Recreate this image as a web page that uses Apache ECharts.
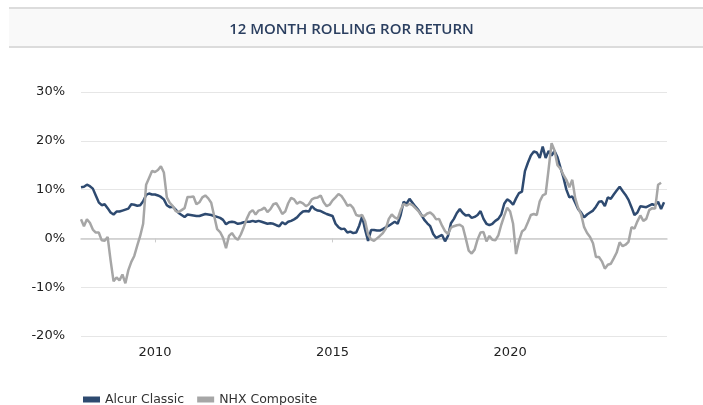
<!DOCTYPE html>
<html>
<head>
<meta charset="utf-8">
<script src="https://cdn.jsdelivr.net/npm/echarts@6/dist/echarts.min.js"></script>
<style>
  html, body { margin: 0; padding: 0; background: #fff; }
  #rollingChart { width: 703px; height: 405px; }
</style>
</head>
<body>
<div id="rollingChart"></div>
<script>
  // monthly points, first one is Dec 2007
  const startYear = 2007;
  const startMonth = 12;
  const seriesNames = ['Alcur Classic', 'NHX Composite'];
  const yTicks = [-20, -10, 0, 10, 20, 30];
  const xTickYears = [2010, 2015, 2020];

  const alcurClassic = [
    10.5, 10.6, 11.0, 10.7, 10.2, 8.8, 7.4, 6.8, 7.0, 6.2,
    5.3, 4.9, 5.5, 5.5, 5.7, 5.9, 6.1, 7.0, 6.9, 6.7,
    6.8, 7.6, 8.9, 9.2, 9.0, 9.0, 8.8, 8.5, 8.0, 6.8,
    6.4, 6.5, 5.9, 5.2, 4.8, 4.4, 4.9, 4.8, 4.7, 4.6,
    4.6, 4.8, 5.0, 4.9, 4.8, 4.6, 4.4, 4.2, 3.8, 2.9,
    3.3, 3.4, 3.3, 3.0, 3.1, 3.3, 3.4, 3.4, 3.6, 3.4,
    3.6, 3.4, 3.2, 3.0, 3.1, 3.0, 2.7, 2.5, 3.3, 2.9,
    3.4, 3.6, 3.9, 4.3, 5.0, 5.5, 5.6, 5.5, 6.6, 6.0,
    5.7, 5.6, 5.3, 5.0, 4.8, 4.6, 3.0, 2.3, 1.9, 2.0,
    1.2, 1.4, 1.1, 1.2, 2.6, 4.5, 1.8, -0.5, 1.7, 1.7,
    1.6, 1.6, 1.9, 2.3, 2.6, 3.0, 3.4, 3.0, 4.8, 7.5,
    7.1, 8.1, 7.3, 6.5, 5.8, 4.8, 3.8, 3.1, 2.5, 0.9,
    0.1, 0.4, 0.7, -0.6, 0.5, 3.1, 4.0, 5.2, 6.0, 5.2,
    4.7, 4.8, 4.2, 4.4, 4.8, 5.6, 4.0, 3.0, 2.7, 3.0,
    3.6, 4.0, 4.9, 7.1, 8.0, 7.6, 6.9, 8.2, 9.3, 9.6,
    13.8, 15.5, 17.0, 17.8, 17.6, 16.5, 18.8, 16.5, 17.9, 17.0,
    17.9, 16.6, 14.5, 12.5, 10.0, 8.4, 8.6, 7.3, 6.0, 5.3,
    4.3, 4.9, 5.3, 5.7, 6.5, 7.5, 7.6, 6.6, 8.4, 8.1,
    9.0, 9.8, 10.6, 9.7, 8.9, 7.9, 6.4, 4.8, 5.3, 6.6,
    6.5, 6.4, 6.7, 7.0, 6.8, 7.5, 6.0, 7.4
  ];

  const nhxComposite = [
    3.9, 2.5, 3.9, 3.2, 1.8, 1.2, 1.2, -0.4, -0.5, 0.3,
    -4.5, -8.8, -8.0, -8.6, -7.4, -9.2, -6.5, -4.8, -3.6, -1.5,
    0.5, 3.0, 11.0, 12.4, 13.8, 13.6, 14.0, 14.8, 13.5, 8.4,
    7.3, 6.6, 5.6, 5.4, 5.8, 6.2, 8.5, 8.5, 8.6, 7.0,
    7.4, 8.4, 8.8, 8.2, 7.3, 4.6, 1.9, 1.3, 0.1, -2.0,
    0.5, 1.1, 0.2, -0.3, 0.8, 2.3, 4.0, 5.3, 5.8, 4.9,
    5.7, 5.9, 6.3, 5.4, 6.0, 7.0, 7.2, 6.2, 5.0, 5.5,
    7.2, 8.3, 8.0, 7.1, 7.5, 7.2, 6.6, 7.0, 8.0, 8.3,
    8.4, 8.8, 7.4, 6.6, 6.9, 7.8, 8.4, 9.1, 8.7, 7.8,
    6.7, 6.9, 6.2, 4.8, 4.6, 4.8, 3.5, 0.8, -0.2, -0.5,
    0.0, 0.5, 1.1, 2.0, 4.0, 4.9, 4.3, 4.0, 5.8, 7.1,
    6.7, 7.1, 6.8, 6.2, 5.6, 4.7, 4.6, 5.1, 5.3, 4.8,
    3.9, 4.0, 2.6, 1.5, 0.9, 2.2, 2.5, 2.7, 2.8, 2.4,
    0.0, -2.5, -3.1, -2.3, -0.2, 1.2, 1.3, -0.6, 0.5, -0.3,
    -0.4, 0.6, 2.8, 4.6, 6.3, 5.5, 3.0, -3.2, -0.5, 1.4,
    1.9, 3.3, 4.8, 5.0, 4.8, 7.6, 8.8, 9.1, 14.2, 19.5,
    18.0, 15.0, 14.3, 13.0, 12.0, 10.5, 12.0, 8.2, 6.2, 4.9,
    2.3, 1.1, 0.3, -1.0, -3.8, -3.8, -4.7, -6.2, -5.4, -5.2,
    -4.1, -2.9, -0.8, -1.6, -1.3, -0.7, 2.3, 2.0, 3.5, 4.7,
    3.6, 4.0, 5.8, 6.2, 6.1, 11.0, 11.4, null
  ];

  // month positions as fractional years (Jan 2010 = 2010.0)
  const months = [];
  for (let i = 0; i < alcurClassic.length; i++) {
    months.push(startYear + (startMonth - 1 + i) / 12);
  }
  const pair = (arr) => arr.map((v, i) => [months[i], v]);

  const chartDom = document.getElementById('rollingChart');
  const myChart = echarts.init(chartDom, null, {renderer: 'canvas'});

  const option = {
    backgroundColor: '#ffffff',
    animation: false,
    graphic: [
      {
        type: 'rect',
        shape: {x: 9, y: 8, width: 694, height: 39},
        style: {fill: '#f9f9f9'},
        silent: true
      },
      {
        type: 'line',
        shape: {x1: 9, y1: 8, x2: 703, y2: 8},
        style: {stroke: '#dcdcdc', lineWidth: 2}
      },
      {
        type: 'line',
        shape: {x1: 9, y1: 47, x2: 703, y2: 47},
        style: {stroke: '#dcdcdc', lineWidth: 2}
      }
    ],
    title: {
      text: '12 MONTH ROLLING ROR RETURN',
      left: 'center',
      top: 17,
      textStyle: {
        fontFamily: 'Open Sans',
        fontWeight: 600,
        fontSize: 15,
        color: '#2b3f60'
      }
    },
    legend: {
      data: seriesNames,
      left: 78,
      top: 388,
      icon: 'rect',
      itemWidth: 17,
      itemHeight: 6,
      itemGap: 13,
      textStyle: {fontFamily: 'DejaVu Sans', fontSize: 12.5, color: '#333'}
    },
    grid: {left: 81, right: 36, top: 92, bottom: 69},
    xAxis: {
      type: 'value',
      min: startYear + (startMonth - 1) / 12,
      max: 2024 + 5 / 12,
      axisLine: {lineStyle: {color: '#cccccc', width: 1.5}},
      axisTick: {
        show: true,
        length: 4,
        lineStyle: {color: '#cccccc'},
        customValues: xTickYears
      },
      axisLabel: {
        margin: 10,
        fontFamily: 'DejaVu Sans',
        fontSize: 13,
        color: '#222',
        customValues: xTickYears,
        formatter: (v) => String(v)
      },
      splitLine: {show: false}
    },
    yAxis: {
      type: 'value',
      min: yTicks[0],
      max: yTicks[yTicks.length - 1],
      interval: 10,
      axisLine: {show: false},
      axisTick: {show: false},
      axisLabel: {
        formatter: '{value}%',
        margin: 16,
        fontFamily: 'DejaVu Sans',
        fontSize: 13,
        color: '#222'
      },
      splitLine: {lineStyle: {color: '#e6e6e6', width: 1}}
    },
    series: [
      {
        name: seriesNames[0],
        type: 'line',
        data: pair(alcurClassic),
        showSymbol: false,
        lineStyle: {width: 2.5, color: '#2e4a70'},
        itemStyle: {color: '#2e4a70'}
      },
      {
        name: seriesNames[1],
        type: 'line',
        data: pair(nhxComposite),
        showSymbol: false,
        lineStyle: {width: 2.5, color: '#a6a6a6'},
        itemStyle: {color: '#a6a6a6'}
      }
    ]
  };
  myChart.setOption(option);
</script>
</body>
</html>
